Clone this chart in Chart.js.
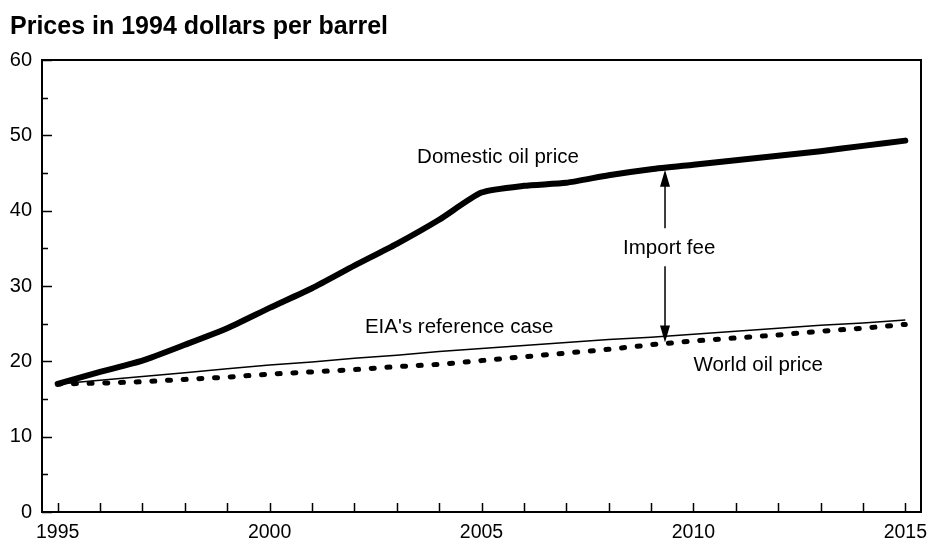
<!DOCTYPE html>
<html lang="en">
<head>
<meta charset="UTF-8" />
<title>Prices in 1994 dollars per barrel</title>
<script src="https://cdn.jsdelivr.net/npm/chart.js"></script>
<style>
  html, body { margin: 0; padding: 0; background: #fff; }
  #wrap { width: 929px; height: 542px; }
</style>
</head>
<body>
<div id="wrap"><canvas id="myChart"></canvas></div>
<script>
// data
var years = [1995, 1996, 1997, 1998, 1999, 2000, 2001, 2002, 2003, 2004, 2005,
             2006, 2007, 2008, 2009, 2010, 2011, 2012, 2013, 2014, 2015];
var domesticPrice = [17.0, 18.6, 20.1, 22.2, 24.4, 27.1, 29.7, 32.7, 35.6, 38.8, 42.4,
                     43.3, 43.7, 44.7, 45.5, 46.1, 46.7, 47.3, 47.9, 48.6, 49.3];
var referenceCase = [17.0, 17.5, 18.0, 18.5, 19.0, 19.5, 19.9, 20.4, 20.8, 21.3, 21.7,
                     22.1, 22.5, 22.9, 23.2, 23.6, 24.0, 24.4, 24.8, 25.1, 25.5];
var worldPrice = [17.0, 17.1, 17.3, 17.6, 17.9, 18.3, 18.6, 18.9, 19.3, 19.6, 20.1,
                  20.6, 21.1, 21.6, 22.2, 22.7, 23.1, 23.5, 24.0, 24.4, 24.9];
var xTickLabels = [1995, 2000, 2005, 2010, 2015];
var yTickLabels = [0, 10, 20, 30, 40, 50, 60];

var FONT = '"Liberation Sans", Arial, sans-serif';

function pts(vals) {
  return years.map(function (y, i) { return { x: y, y: vals[i] }; });
}

function interp(vals, yr) {
  var i = Math.min(Math.floor(yr - years[0]), years.length - 2);
  var t = yr - years[i];
  return vals[i] + (vals[i + 1] - vals[i]) * t;
}

var decor = {
  id: 'decor',
  afterDatasetsDraw: function (chart) {
    var ctx = chart.ctx;
    var a = chart.chartArea;
    var xs = chart.scales.x, ys = chart.scales.y;
    ctx.save();
    ctx.strokeStyle = '#000';
    ctx.fillStyle = '#000';

    // frame
    ctx.lineWidth = 2;
    ctx.strokeRect(a.left, a.top, a.right - a.left, a.bottom - a.top);

    // inward ticks
    ctx.lineWidth = 1.5;
    ctx.beginPath();
    years.forEach(function (yr) {
      var px = Math.round(xs.getPixelForValue(yr)) + 0.5;
      ctx.moveTo(px, a.bottom);
      ctx.lineTo(px, a.bottom - 9);
    });
    for (var v = 0; v <= 60; v += 5) {
      var py = Math.round(ys.getPixelForValue(v)) + 0.5;
      ctx.moveTo(a.left, py);
      ctx.lineTo(a.left + (v % 10 === 0 ? 10 : 6), py);
    }
    ctx.stroke();

    // import fee arrow
    var ayr = 2009.33;
    var ax = xs.getPixelForValue(ayr);
    var top = ys.getPixelForValue(interp(domesticPrice, ayr)) + 2;
    var bot = ys.getPixelForValue(interp(worldPrice, ayr)) - 1;
    var mid = ys.getPixelForValue(35.0);
    ctx.lineWidth = 1.5;
    ctx.beginPath();
    ctx.moveTo(ax, top + 15); ctx.lineTo(ax, mid - 20);
    ctx.moveTo(ax, mid + 18); ctx.lineTo(ax, bot - 15);
    ctx.stroke();
    ctx.beginPath();
    ctx.moveTo(ax, top); ctx.lineTo(ax - 5, top + 17); ctx.lineTo(ax + 5, top + 17); ctx.closePath();
    ctx.moveTo(ax, bot); ctx.lineTo(ax - 5, bot - 17); ctx.lineTo(ax + 5, bot - 17); ctx.closePath();
    ctx.fill();

    // series labels
    ctx.font = '20.5px ' + FONT;
    ctx.textAlign = 'left';
    ctx.textBaseline = 'middle';
    ctx.fillText('Domestic oil price', xs.getPixelForValue(2003.48), ys.getPixelForValue(47.1));
    ctx.fillText('Import fee', xs.getPixelForValue(2008.34), mid);
    ctx.fillText("EIA's reference case", xs.getPixelForValue(2002.25), ys.getPixelForValue(24.5));
    ctx.fillText('World oil price', xs.getPixelForValue(2010.0), ys.getPixelForValue(19.5));
    ctx.restore();
  }
};

var ctx = document.getElementById('myChart').getContext('2d');
new Chart(ctx, {
  type: 'line',
  data: {
    datasets: [
      {
        label: 'Domestic oil price',
        data: pts(domesticPrice),
        borderColor: '#000',
        borderWidth: 6,
        borderJoinStyle: 'round',
        borderCapStyle: 'round',
        pointRadius: 0,
        tension: 0.2,
        fill: false
      },
      {
        label: "EIA's reference case",
        data: pts(referenceCase),
        borderColor: '#000',
        borderWidth: 1.5,
        pointRadius: 0,
        fill: false
      },
      {
        label: 'World oil price',
        data: pts(worldPrice),
        borderColor: '#000',
        borderWidth: 5,
        borderDash: [3, 12.7],
        borderCapStyle: 'round',
        pointRadius: 0,
        fill: false
      }
    ]
  },
  options: {
    responsive: true,
    maintainAspectRatio: false,
    animation: false,
    events: [],
    layout: { padding: { left: 10, right: 8, top: 0, bottom: 0 } },
    plugins: {
      legend: { display: false },
      tooltip: { enabled: false },
      title: {
        display: true,
        text: 'Prices in 1994 dollars per barrel',
        align: 'start',
        color: '#000',
        font: { family: FONT, size: 25, weight: 'bold' },
        padding: { top: 12, bottom: 18 }
      }
    },
    scales: {
      x: {
        type: 'linear',
        min: 1994.63,
        max: 2015.37,
        afterBuildTicks: function (s) { s.ticks = xTickLabels.map(function (v) { return { value: v }; }); },
        afterFit: function (s) { s.height = 30; s.paddingLeft = 0; s.paddingRight = 0; },
        grid: { display: false, drawTicks: false },
        border: { display: false },
        ticks: {
          color: '#000',
          padding: 11,
          maxRotation: 0,
          autoSkip: false,
          font: { family: FONT, size: 19.5, lineHeight: 1 },
          callback: function (v) { return String(v); }
        }
      },
      y: {
        min: 0,
        max: 60,
        afterBuildTicks: function (s) { s.ticks = yTickLabels.map(function (v) { return { value: v }; }); },
        afterFit: function (s) { s.width = 32; s.paddingTop = 0; s.paddingBottom = 0; },
        grid: { display: false, drawTicks: false },
        border: { display: false },
        ticks: {
          color: '#000',
          padding: 10,
          autoSkip: false,
          font: { family: FONT, size: 20 }
        }
      }
    }
  },
  plugins: [decor]
});
</script>
</body>
</html>
